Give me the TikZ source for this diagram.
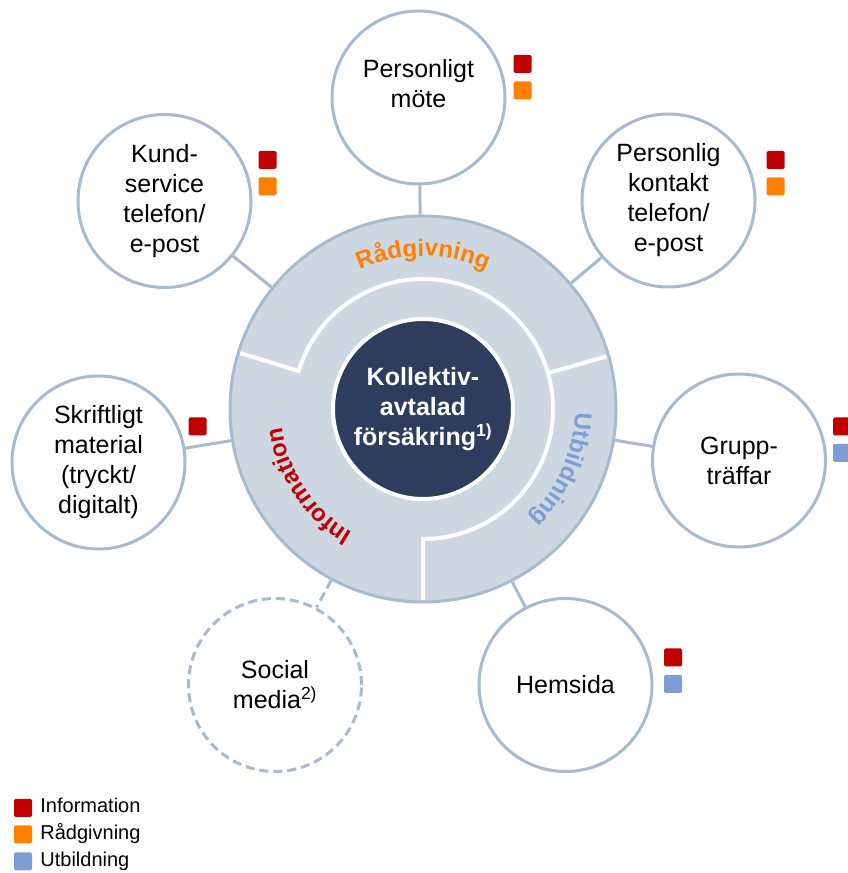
\documentclass[tikz,border=0pt]{standalone}
\usepackage{fontspec}
\setmainfont{Liberation Sans}
\usetikzlibrary{positioning,decorations.text}
\definecolor{rim}{RGB}{166,188,206}
\definecolor{ringfill}{RGB}{205,215,226}
\definecolor{navy}{RGB}{46,61,93}
\definecolor{cinfo}{RGB}{192,0,0}
\definecolor{crad}{RGB}{255,128,0}
\definecolor{cutb}{RGB}{124,158,212}

\begin{document}
\begin{tikzpicture}[
  x=1pt, y=1pt,
  chan/.style={draw=rim, line width=3pt, circle, fill=white, minimum size=173pt, inner sep=0pt, align=center, font=\fontsize{25}{30}\selectfont},
  sq/.style={rectangle, rounded corners=1.5pt, minimum size=18pt, inner sep=0pt},
  info/.style={sq, fill=cinfo},
  radg/.style={sq, fill=crad},
  utb/.style={sq, fill=cutb},
  spoke/.style={draw=rim, line width=3pt},
  gapline/.style={draw=white, line width=4pt},
  ringtext/.style={decorate, decoration={text along path, text align=center, text={|\bfseries\fontsize{24}{28}\selectfont|#1}}},
  legtext/.style={font=\fontsize{20}{24}\selectfont, inner sep=0pt, text height=14pt, text depth=4pt}
]
\useasboundingbox (0,0) rectangle (848,873);

% ring with the three areas
\node[circle, draw=rim, line width=3pt, fill=ringfill, minimum size=386pt, inner sep=0pt] (ring) at (423,464) {};
\draw[gapline] ([shift={(163:191)}]ring.center) -- ([shift={(163:130)}]ring.center)
  arc[start angle=163, end angle=-90, radius=130] -- ([shift={(-90:191)}]ring.center);
\draw[gapline] ([shift={(16:130)}]ring.center) -- ([shift={(16:191)}]ring.center);
\node[circle, fill=navy, draw=white, line width=4pt, minimum size=180pt, inner sep=0pt, text=white,
  align=center, font=\bfseries\fontsize{25}{30}\selectfont] (core) at (ring.center)
  {Kollektiv-\\avtalad\\försäkring\textsuperscript{1)}};

\path[ringtext=Rådgivning, decoration={text color=crad}] ([shift={(150:153)}]ring.center) arc[start angle=150, end angle=30, radius=153];
\path[ringtext=Utbildning, decoration={text color=cutb}] ([shift={(20:152)}]ring.center) arc[start angle=20, end angle=-67, radius=152];
\path[ringtext=Information, decoration={text color=cinfo}] ([shift={(260:142)}]ring.center) arc[start angle=260, end angle=167.5, radius=142];

% channels
\node[chan] (mote) at (418.5,775.5) {};
\node[font=\fontsize{25}{30}\selectfont, align=center] (mote-txt) at ([yshift=14pt]mote.center) {Personligt\\möte};
\node[chan] (kund) at (164.5,672) {Kund-\\service\\telefon/\\e-post};
\node[chan] (kontakt) at (668.5,672.5) {Personlig\\kontakt\\telefon/\\e-post};
\node[chan] (skrift) at (98.5,410.5) {Skriftligt\\material\\(tryckt/\\digitalt)};
\node[chan] (grupp) at (739,412.5) {Grupp-\\träffar};
\node[chan] (hemsida) at (565.5,188) {Hemsida};
\node[chan, dash pattern=on 9pt off 5pt] (social) at (275,188) {Social\\media\textsuperscript{2)}};

\foreach \c in {mote,kund,kontakt,skrift,grupp,hemsida}
  \draw[spoke] (ring) -- (\c);
\draw[spoke, dash pattern=on 9pt off 5pt] (ring) -- (social);

% markers
\node[info] (mote-i) at (522.5,809) {};
\node[radg, below=8pt of mote-i] (mote-r) {};
\node[info] (kund-i) at (267.5,713) {};
\node[radg, below=8pt of kund-i] (kund-r) {};
\node[info] (kontakt-i) at (775.5,713) {};
\node[radg, below=8pt of kontakt-i] (kontakt-r) {};
\node[info] (skrift-i) at (197.5,446.5) {};
\node[info] (grupp-i) at (842,446.5) {};
\node[utb, below=8pt of grupp-i] (grupp-u) {};
\node[info] (hemsida-i) at (673,215.5) {};
\node[utb, below=8pt of hemsida-i] (hemsida-u) {};

% legend
\node[info] (leg-i) at (23,65) {};
\node[radg, below=8pt of leg-i] (leg-r) {};
\node[utb, below=8.5pt of leg-r] (leg-u) {};
\node[legtext, right=8pt of leg-i] (leg-i-txt) {Information};
\node[legtext, right=8pt of leg-r] (leg-r-txt) {Rådgivning};
\node[legtext, right=8pt of leg-u] (leg-u-txt) {Utbildning};
\end{tikzpicture}
\end{document}
